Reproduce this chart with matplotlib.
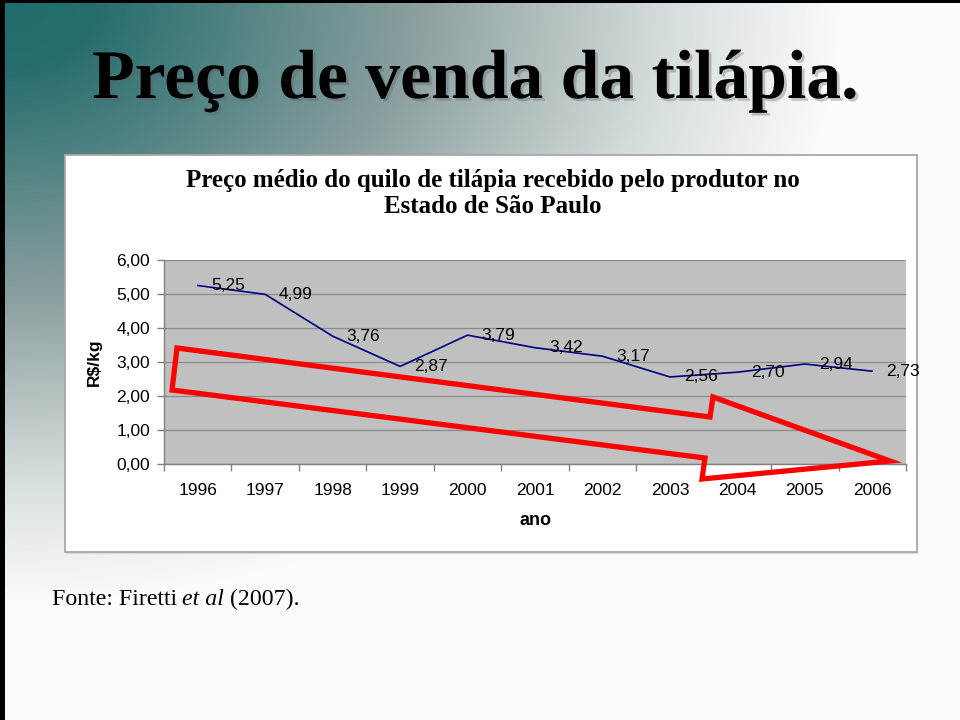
import numpy as np
import matplotlib
matplotlib.use("Agg")
import matplotlib.pyplot as plt
from matplotlib.patches import Rectangle, Polygon
from matplotlib import patheffects as pe

# ---------------- data ----------------
years = ["1996", "1997", "1998", "1999", "2000", "2001", "2002", "2003", "2004", "2005", "2006"]
prices = [5.25, 4.99, 3.76, 2.87, 3.79, 3.42, 3.17, 2.56, 2.70, 2.94, 2.73]
yticks = [0, 1, 2, 3, 4, 5, 6]

slide_title = "Preço de venda da tilápia."
chart_title_1 = "Preço médio do quilo de tilápia recebido pelo produtor no"
chart_title_2 = "Estado de São Paulo"
ylabel = r"R\$/kg"
xlabel = "ano"

def br(v):
    return f"{v:.2f}".replace(".", ",")

W, H = 960, 720
fig = plt.figure(figsize=(W / 100, H / 100), dpi=100)

def fx(px):
    return px / W

def fy(py):
    return 1 - py / H

# ---------------- background gradient ----------------
bg = fig.add_axes([0, 0, 1, 1], zorder=-10)
bg.axis("off")
yy, xx = np.mgrid[0:H, 0:W]
t = np.clip(np.sqrt((xx / 840.0) ** 2 + (yy / 600.0) ** 2), 0, 1)
stops_t = [0.0, 0.12, 0.5, 0.8, 1.0]
stops_c = np.array([[32, 108, 108], [40, 110, 110], [140, 160, 160], [215, 222, 222], [250, 251, 251]]) / 255.0
img = np.stack([np.interp(t, stops_t, stops_c[:, k]) for k in range(3)], axis=-1)
bg.imshow(img, extent=[0, 1, 0, 1], aspect="auto", transform=bg.transAxes)
bg.set_xlim(0, 1)
bg.set_ylim(0, 1)

# black slide borders (top and left)
fig.patches.append(Rectangle((0, fy(3)), 1, fy(0) - fy(3), transform=fig.transFigure,
                             facecolor="black", edgecolor="none", zorder=5))
fig.patches.append(Rectangle((0, 0), fx(5), 1, transform=fig.transFigure,
                             facecolor="black", edgecolor="none", zorder=5))

# chart box
fig.patches.append(Rectangle((fx(66), fy(553.5)), fx(917) - fx(65), fy(155) - fy(552),
                             transform=fig.transFigure, facecolor="#dadada",
                             edgecolor="none", zorder=0))
fig.patches.append(Rectangle((fx(65), fy(552)), fx(917) - fx(65), fy(155) - fy(552),
                             transform=fig.transFigure, facecolor="white",
                             edgecolor="#a8a8a8", lw=1.3, zorder=1))

# ---------------- plot ----------------
FS = 12.5
ax = fig.add_axes([fx(164), fy(464), fx(906) - fx(164), fy(260) - fy(464)], zorder=2)
ax.set_facecolor("#c0c0c0")
x = np.arange(len(years))
ax.plot(x, prices, color="#000080", lw=1.2, zorder=3)
ax.set_xlim(-0.5, len(years) - 0.5)
ax.set_ylim(min(yticks), max(yticks))

ax.set_yticks(yticks)
ax.set_yticklabels([br(v) for v in yticks], fontsize=FS, family="Liberation Sans")
ax.tick_params(axis="y", length=5, width=1, color="#808080", pad=5)
ax.yaxis.grid(True, color="#8a8a8a", lw=0.9)
ax.set_axisbelow(True)

ax.set_xticks(x)
ax.set_xticklabels(years, fontsize=FS, family="Liberation Sans")
ax.set_xticks(np.arange(-0.5, len(years), 1), minor=True)
ax.tick_params(axis="x", which="major", length=0, pad=13.5)
ax.tick_params(axis="x", which="minor", length=5, width=1, color="#808080")

for s in ["top", "right"]:
    ax.spines[s].set_visible(False)
for s in ["left", "bottom"]:
    ax.spines[s].set_color("#808080")
    ax.spines[s].set_linewidth(1.0)

for xi, yi in zip(x, prices):
    ax.annotate(br(yi), (xi, yi), xytext=(10, 0), textcoords="offset points",
                ha="left", va="center", fontsize=FS, family="Liberation Sans",
                annotation_clip=False, zorder=4)

ax.set_ylabel(ylabel, fontsize=FS, fontweight="bold", family="Liberation Sans")
ax.yaxis.set_label_coords((102 - 164) / 742, 0.5)
ax.set_xlabel(xlabel, fontsize=13, fontweight="bold", family="Liberation Sans")
ax.xaxis.set_label_coords(0.5, (464 - 512) / 204)

# red arrow (decoration)
arrow_px = [(177, 348), (710, 417), (713, 397), (890, 461), (702, 479), (705, 458), (172, 390)]
fig.patches.append(Polygon([(fx(a), fy(b)) for a, b in arrow_px], closed=True,
                           transform=fig.transFigure, facecolor="none",
                           edgecolor="#ff0000", lw=3.8, joinstyle="miter", zorder=6))

# ---------------- texts ----------------
renderer = fig.canvas.get_renderer()

def fit_width(txt, target_px):
    w = txt.get_window_extent(renderer).width
    txt.set_fontsize(txt.get_fontsize() * target_px / w)

title = fig.text(fx(475), fy(98), slide_title, ha="center", va="baseline",
                 fontsize=48, fontweight="bold", family="Liberation Serif", color="black",
                 zorder=7,
                 path_effects=[pe.withSimplePatchShadow(offset=(2, -2),
                                                        shadow_rgbFace="#606060", alpha=0.35)])
fit_width(title, 766)

ct1 = fig.text(fx(493), fy(187), chart_title_1, ha="center", va="baseline",
               fontsize=14, fontweight="bold", family="Liberation Serif", zorder=7)
fit_width(ct1, 616)
ct2 = fig.text(fx(493), fy(213), chart_title_2, ha="center", va="baseline",
               fontsize=ct1.get_fontsize(), fontweight="bold", family="Liberation Serif", zorder=7)

f1 = fig.text(fx(52), fy(605), "Fonte: Firetti", ha="left", va="baseline",
              fontsize=15, family="Liberation Serif", zorder=7)
fit_width(f1, 126)
fs = f1.get_fontsize()
x_cur = f1.get_window_extent(renderer).x1 + 5
f2 = fig.text(x_cur / W, fy(605), "et al", ha="left", va="baseline",
              fontsize=fs, style="italic", family="Liberation Serif", zorder=7)
x_cur = f2.get_window_extent(renderer).x1 + 6
f3 = fig.text(x_cur / W, fy(605), "(2007).", ha="left", va="baseline",
              fontsize=fs, family="Liberation Serif", zorder=7)

fig.savefig("out.png", dpi=100)
